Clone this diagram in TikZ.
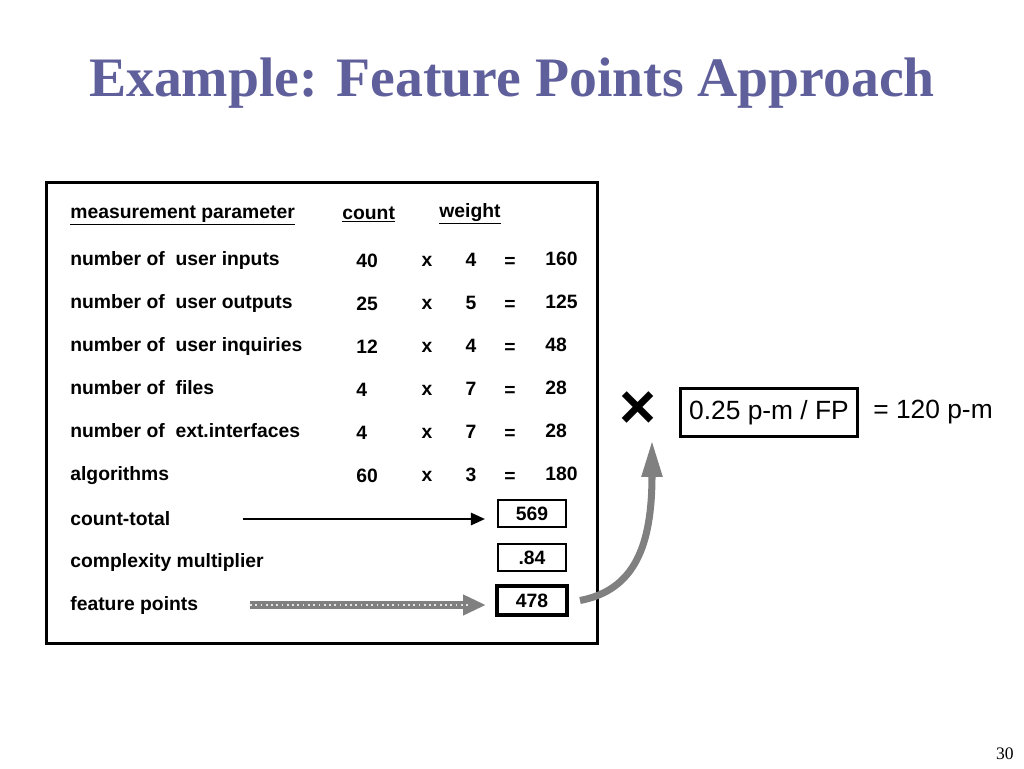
\documentclass[tikz,border=0pt]{standalone}
\usepackage{fontspec}
\setmainfont{Liberation Serif}
\setsansfont{Liberation Sans}
\usetikzlibrary{arrows.meta}
\definecolor{titleblue}{RGB}{95,95,155}
\definecolor{fpgray}{RGB}{128,128,128}
\tikzset{
  lbl/.style={anchor=base west,inner sep=0pt,font=\sffamily\bfseries\fontsize{11}{13}\selectfont},
  num/.style={anchor=base,inner sep=0pt,font=\sffamily\bfseries\fontsize{11}{13}\selectfont},
  valbox/.style={draw,line width=1.2pt,minimum width=1.36cm,minimum height=0.54cm,inner sep=0pt,
    font=\sffamily\bfseries\fontsize{11}{13}\selectfont}
}
\begin{document}
\begin{tikzpicture}[x=0.02cm,y=-0.02cm]
  \useasboundingbox (0,0) rectangle (1024,768);
  \node (title) [anchor=base,inner sep=0pt,text=titleblue,font=\bfseries\fontsize{31.7}{36}\selectfont]
    at (512,96) {Example: Feature Points Approach};
  \node (page) [anchor=base east,inner sep=0pt,font=\fontsize{10}{12}\selectfont] at (1014,759) {30};

  \draw[line width=1.7pt] (46.5,182.5) rectangle (597.5,643.5);

  % header
  \node (hpar) [lbl] at (70,218) {\underline{measurement parameter}};
  \node (hcnt) [lbl] at (342,219) {\underline{count}};
  \node (hwgt) [lbl] at (439,217) {\underline{weight}};

  % rows
  \node (uil) [lbl] at (70,265) {number of\ \ user inputs};
  \node (uic) [lbl] at (356,267) {40};
  \node (uix) [num] at (427,266) {x};
  \node (uiw) [num] at (471,266) {4};
  \node (uie) [num] at (510,267) {=};
  \node (uir) [lbl] at (545,265) {160};

  \node (uol) [lbl] at (70,308) {number of\ \ user outputs};
  \node (uoc) [lbl] at (356,310) {25};
  \node (uox) [num] at (427,309) {x};
  \node (uow) [num] at (471,309) {5};
  \node (uoe) [num] at (510,310) {=};
  \node (uor) [lbl] at (545,308) {125};

  \node (uql) [lbl] at (70,351) {number of\ \ user inquiries};
  \node (uqc) [lbl] at (356,353) {12};
  \node (uqx) [num] at (427,352) {x};
  \node (uqw) [num] at (471,352) {4};
  \node (uqe) [num] at (510,353) {=};
  \node (uqr) [lbl] at (545,351) {48};

  \node (fil) [lbl] at (70,394) {number of\ \ files};
  \node (fic) [lbl] at (356,396) {4};
  \node (fix) [num] at (427,395) {x};
  \node (fiw) [num] at (471,395) {7};
  \node (fie) [num] at (510,396) {=};
  \node (fir) [lbl] at (545,394) {28};

  \node (eil) [lbl] at (70,437) {number of\ \ ext.interfaces};
  \node (eic) [lbl] at (356,439) {4};
  \node (eix) [num] at (427,438) {x};
  \node (eiw) [num] at (471,438) {7};
  \node (eie) [num] at (510,439) {=};
  \node (eir) [lbl] at (545,437) {28};

  \node (all) [lbl] at (70,480) {algorithms};
  \node (alc) [lbl] at (356,482) {60};
  \node (alx) [num] at (427,481) {x};
  \node (alw) [num] at (471,481) {3};
  \node (ale) [num] at (510,482) {=};
  \node (alr) [lbl] at (545,480) {180};

  % totals
  \node (ctl) [lbl] at (70,525) {count-total};
  \node (cml) [lbl] at (70,567) {complexity multiplier};
  \node (fpl) [lbl] at (70,610) {feature points};

  \node (ctb) [valbox] at (532,513.5) {569};
  \node (cmb) [valbox] at (532,557.5) {.84};
  \node (fpb) [valbox,line width=2.3pt,minimum width=1.4cm,minimum height=0.58cm] at (532,600.5) {478};

  \coordinate (cta) at (243,519);
  \draw[line width=1.2pt,-{Triangle[length=8pt,width=7pt]}] (cta) -- (cta -| ctb.west) [shorten >=12*0.02cm];

  \coordinate (fpa) at (250,605);
  \draw[line width=4.5pt,fpgray,-{Triangle[length=13pt,width=11pt]}] (fpa) -- (fpa -| fpb.west) [shorten >=9*0.02cm];
  \draw[line width=1pt,white!80!fpgray,dotted] (fpa) -- ([xshift=-25*0.02cm]fpa -| fpb.west);

  % per-FP factor
  \node (mul) [inner sep=0pt,font=\sffamily\bfseries\fontsize{36}{40}\selectfont] at (638,410) {×};
  \node (rate) [draw,line width=1.7pt,minimum width=3.54cm,minimum height=0.96cm,inner sep=0pt,
    font=\sffamily\fontsize{15}{18}\selectfont] at (769,412.5) {0.25 p-m / FP};
  \node (res) [anchor=west,inner sep=0pt,font=\sffamily\fontsize{15}{18}\selectfont] at (873,412) {= 120 p-m};

  \coordinate (tip) at (652,440);
  \draw[line width=4pt,fpgray,-{Triangle[length=21pt,width=11pt]}]
    ([xshift=11*0.02cm]fpb.east) .. controls (635,590) and (652,545) .. (tip);
\end{tikzpicture}
\end{document}
